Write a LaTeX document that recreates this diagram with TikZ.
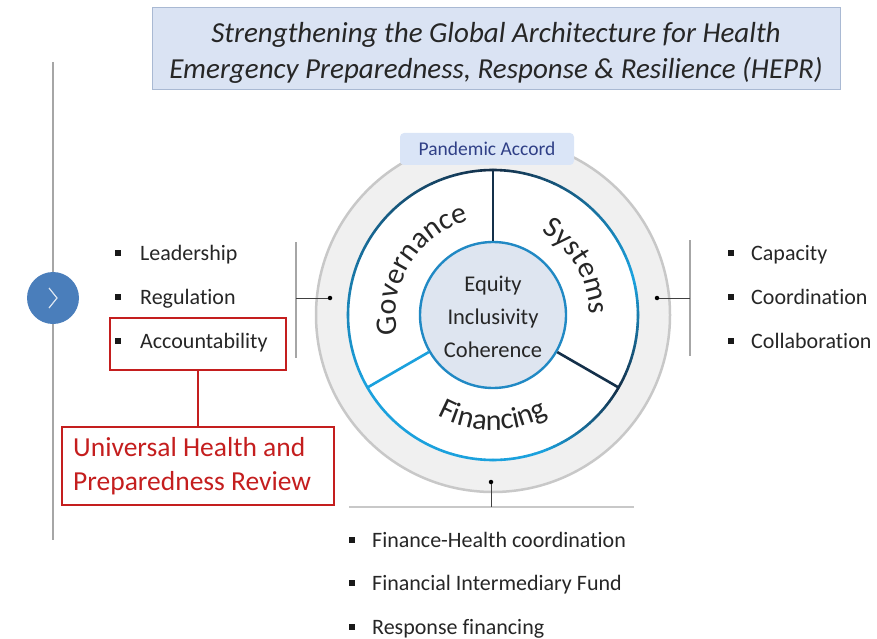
\documentclass[tikz,border=0pt]{standalone}
\usepackage{fontspec}
\setmainfont{Carlito}[Ligatures={NoCommon}]
\usetikzlibrary{decorations.text,calc}
\definecolor{navy}{HTML}{14304A}
\definecolor{lblue}{HTML}{1BA1DD}
\definecolor{coreblue}{HTML}{2189C4}
\definecolor{titlefill}{HTML}{DAE3F3}
\definecolor{titleborder}{HTML}{A9B9D3}
\definecolor{ringgray}{HTML}{C8C8C8}
\definecolor{ringfill}{HTML}{F0F0F0}
\definecolor{corefill}{HTML}{DEE5F0}
\definecolor{accred}{HTML}{C41E1E}
\definecolor{accblue}{HTML}{4A7EBB}
\definecolor{textgray}{HTML}{262626}
\definecolor{linegray}{HTML}{A6A6A6}
\definecolor{pacolor}{HTML}{2F3F86}
\definecolor{pafill}{HTML}{DAE5F7}
\newcommand{\gradarc}[5]{%
  \foreach \i in {0,...,23}{%
    \pgfmathsetmacro{\aa}{#1+(#2-#1)*\i/24}%
    \pgfmathsetmacro{\ab}{#1+(#2-#1)*(\i+1)/24}%
    \pgfmathtruncatemacro{\pp}{100-100*\i/23}%
    \draw[line width=2.6, line cap=round, color={#3!\pp!#4}] (493,-315) ++(\aa:#5) arc[start angle=\aa, end angle=\ab, radius=#5];
  }}
\begin{document}
\begin{tikzpicture}[x=1pt,y=1pt,
  item/.style={anchor=base west, inner sep=0, text=textgray, font=\fontsize{22}{22}\selectfont},
  sq/.style={fill=black!90, minimum size=5.5, inner sep=0},
  bracket/.style={draw=linegray, line width=1.3},
  tick/.style={draw=black!75, line width=0.9},
  dotn/.style={circle, fill=black, inner sep=0, minimum size=4.5},
  redbox/.style={draw=accred, line width=1.4, inner sep=0},
  arctext/.style={decorate, decoration={text along path, text align=center, text color=textgray}}
]
\useasboundingbox (0,0) rectangle (877,-639);

% title
\node[fill=titlefill, draw=titleborder, line width=1, minimum width=688, minimum height=82] (title) at (496,-49) {};
\node[align=center, font=\fontsize{29}{36}\selectfont\itshape, text=textgray] (titletext) at (496,-53)
  {Strengthening the Global Architecture for Health\\Emergency Preparedness, Response \& Resilience (HEPR)};

% left timeline
\coordinate (vt1) at (53,-62);
\coordinate (vt2) at (53,-275);
\coordinate (vb1) at (53,-322);
\coordinate (vb2) at (53,-540);
\draw[linegray, line width=1.5] (vt1) -- (vt2);
\draw[linegray, line width=1.5] (vb1) -- (vb2);
\node[circle, fill=accblue, minimum size=52, inner sep=0] (nav) at (53,-298) {};
\draw[white!80!accblue, line width=1.2] ([shift={(-4,10)}]nav.center) -- ([shift={(4,0)}]nav.center) -- ([shift={(-4,-10)}]nav.center);

% wheel
\fill[ringfill] (493,-315) circle[radius=177];
\draw[ringgray, line width=2.5] (493,-315) circle[radius=177];
\fill[white] (493,-315) circle[radius=145];
\node[circle, fill=corefill, draw=coreblue, line width=2.4, minimum size=146, inner sep=0] (core) at (493,-315) {};
\coordinate (rtop) at (493,-170);
\coordinate (rright) at ($(493,-315)+(-30:145)$);
\coordinate (rleft) at ($(493,-315)+(210:145)$);
\draw[navy, line width=2.6] (core.90) -- (rtop);
\draw[navy, line width=2.6] (core.-30) -- (rright);
\draw[lblue, line width=2.6] (core.210) -- (rleft);
\gradarc{90}{210}{navy}{lblue}{145}
\gradarc{210}{290}{lblue}{lblue}{145}
\gradarc{290}{330}{lblue}{navy}{145}
\gradarc{330}{375}{navy}{lblue}{145}
\gradarc{375}{450}{lblue}{navy}{145}

\node[align=center, text=textgray, font=\fontsize{22.5}{33}\selectfont] (values) at (493,-317) {Equity\\Inclusivity\\Coherence};

\path[arctext, decoration={text={|\fontsize{30}{30}\selectfont|Governance}}]
  (493,-315) ++(203:97) arc[start angle=203, end angle=93, radius=97];
\path[arctext, decoration={text={|\fontsize{30}{30}\selectfont|Systems}}]
  (493,-315) ++(85:96) arc[start angle=85, end angle=-25, radius=96];
\path[arctext, decoration={text={|\fontsize{30}{30}\selectfont|Financing}}]
  (493,-315) ++(215:115) arc[start angle=215, end angle=325, radius=115];

\node[fill=pafill, rounded corners=4, minimum width=174, minimum height=32, inner sep=0,
  text=pacolor, font=\fontsize{19.5}{19.5}\selectfont] (pa) at (487,-149) {Pandemic Accord};

% left bracket
\node[dotn] (dl) at (330,-298) {};
\coordinate (bl1) at (296,-242);
\coordinate (bl2) at (296,-358);
\coordinate (blm) at (296,-298);
\draw[bracket] (bl1) -- (bl2);
\draw[tick] (blm) -- (dl);

% right bracket
\node[dotn] (dr) at (657,-298) {};
\coordinate (br1) at (690,-240);
\coordinate (br2) at (690,-356);
\coordinate (brm) at (690,-298);
\draw[bracket] (br1) -- (br2);
\draw[tick] (dr) -- (brm);

% bottom bracket
\node[dotn] (db) at (491,-482) {};
\coordinate (bb1) at (349,-507);
\coordinate (bb2) at (634,-507);
\coordinate (bbm) at (491,-507);
\draw[ringgray, line width=2.2] (bb1) -- (bb2);
\draw[tick] (db) -- (bbm);

% left list
\node[sq] (s1) at (118,-253) {};
\node[item] (l1) at (140,-260) {Leadership};
\node[sq] (s2) at (118,-297) {};
\node[item] (l2) at (140,-304) {Regulation};
\node[sq] (s3) at (118,-341) {};
\node[item] (l3) at (140,-348) {Accountability};

% right list
\node[sq] (r1s) at (731,-253) {};
\node[item] (r1) at (751,-260) {Capacity};
\node[sq] (r2s) at (731,-297) {};
\node[item] (r2) at (751,-304) {Coordination};
\node[sq] (r3s) at (731,-341) {};
\node[item] (r3) at (751,-348) {Collaboration};

% bottom list
\node[sq] (f1s) at (352,-540) {};
\node[item] (f1) at (372,-547) {Finance-Health coordination};
\node[sq] (f2s) at (352,-583) {};
\node[item] (f2) at (372,-590) {Financial Intermediary Fund};
\node[sq] (f3s) at (352,-627) {};
\node[item] (f3) at (372,-634) {Response financing};

% red boxes
\node[redbox, minimum width=176, minimum height=52] (accbox) at (198,-344) {};
\node[redbox, minimum width=272, minimum height=78] (uhpr) at (198,-466) {};
\node[anchor=west, inner sep=0, align=left, text=accred, font=\fontsize{27.5}{34}\selectfont] (uhprtext) at (73,-466)
  {Universal Health and\\Preparedness Review};
\draw[accred, line width=1.4] (accbox.south) -- (uhpr.north);
\end{tikzpicture}
\end{document}
